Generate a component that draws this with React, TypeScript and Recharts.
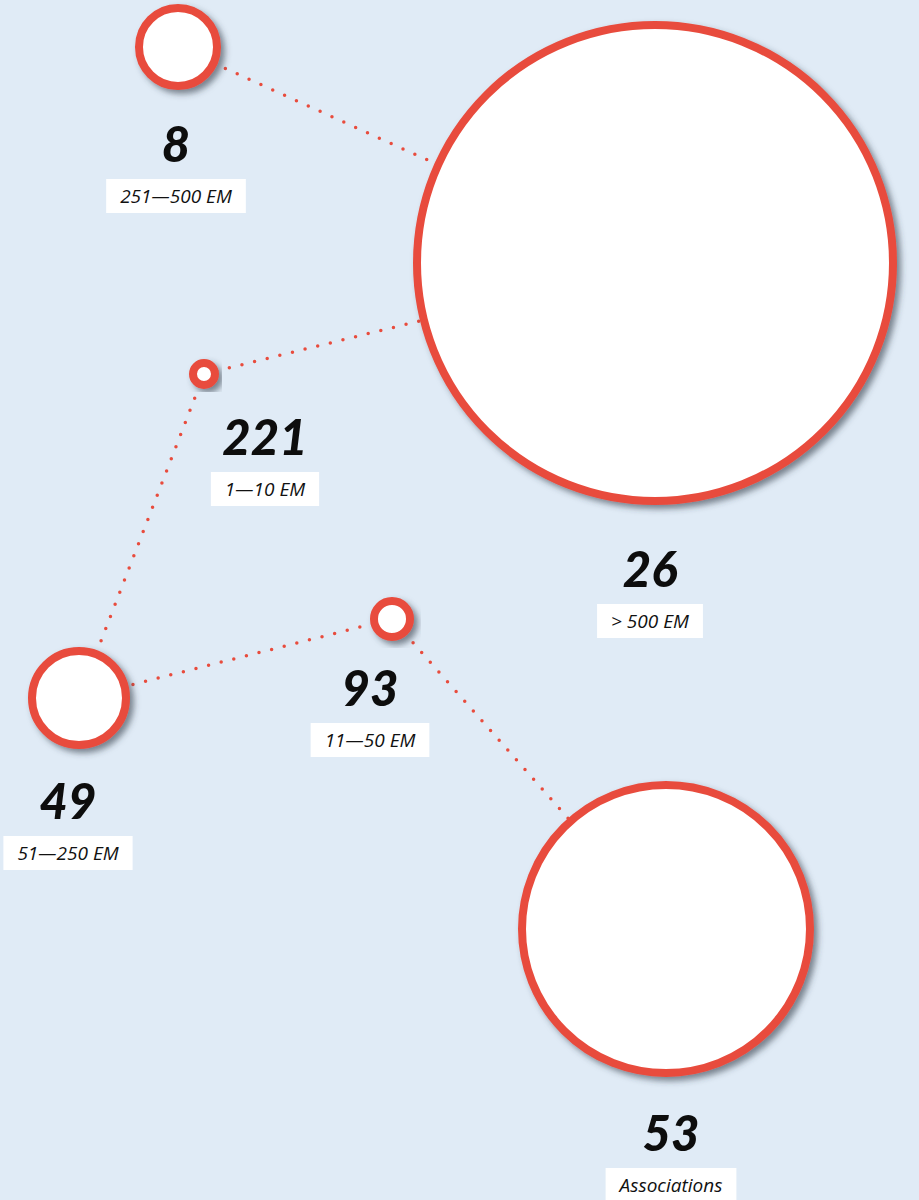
import React from 'react';
import { ScatterChart, Scatter, XAxis, YAxis, ZAxis } from 'recharts';

const RED = '#e84c3d';
const BG = '#e0ebf6';

// bubbles, in the order they appear top to bottom
const categories = ['251—500 EM', '> 500 EM', '1—10 EM', '11—50 EM', '51—250 EM', 'Associations'];
const counts = [8, 26, 221, 93, 49, 53];
const bubbleX = [178, 655, 204, 392, 79, 666];
const bubbleY = [47, 263, 374, 619, 698, 929];
const bubbleArea = [4780, 177950, 380, 1020, 6940, 65140];
const labelX = [176, 650, 265, 370, 68, 671];
const labelY = [179, 604, 472, 723, 836, 1168];

// the dotted path goes through the bubbles in this order
const linkOrder = ['251—500 EM', '> 500 EM', '1—10 EM', '51—250 EM', '11—50 EM', 'Associations'];

const bubbles = categories.map((name, i) => ({
  name,
  x: bubbleX[i],
  y: bubbleY[i],
  z: bubbleArea[i],
}));
const links = linkOrder.map((name) => bubbles.find((b) => b.name === name)!);
const labels = categories.map((name, i) => ({
  name,
  count: counts[i],
  x: labelX[i],
  y: labelY[i],
  z: 1,
}));

const LABEL_FONT = 'italic 19px "Open Sans"';
let ctx: CanvasRenderingContext2D | null = null;
function textWidth(t: string) {
  if (!ctx) ctx = document.createElement('canvas').getContext('2d');
  if (!ctx) return t.length * 11;
  ctx.font = LABEL_FONT;
  return ctx.measureText(t).width;
}

const Bubble = (props: any) => {
  const { cx, cy, width, index } = props;
  const r = width / 2;
  const id = `shadow-${index}`;
  return (
    <g>
      <defs>
        <filter id={id} x="-30%" y="-30%" width="160%" height="160%">
          <feDropShadow dx="4" dy="4" stdDeviation="3" floodColor="#343a46" floodOpacity="0.6" />
        </filter>
      </defs>
      <circle cx={cx} cy={cy} r={r} fill="#fff" stroke={RED} strokeWidth={8} filter={`url(#${id})`} />
    </g>
  );
};

const Label = (props: any) => {
  const { cx, cy, payload } = props;
  const w = textWidth(payload.name) + 28;
  return (
    <g>
      <text
        x={cx}
        y={cy - 17}
        textAnchor="middle"
        fontFamily="Lato, sans-serif"
        fontStyle="italic"
        fontWeight={900}
        fontSize={49}
        fill="#0d0d0d"
      >
        {payload.count}
      </text>
      <rect x={cx - w / 2} y={cy} width={w} height={34} fill="#fff" />
      <text
        x={cx}
        y={cy + 24}
        textAnchor="middle"
        fontFamily="'Open Sans', sans-serif"
        fontStyle="italic"
        fontSize={19}
        fill="#111"
      >
        {payload.name}
      </text>
    </g>
  );
};

export default function App() {
  return (
    <div style={{ width: 919, height: 1200, background: BG, overflow: 'hidden' }}>
      <style>{'body{margin:0}'}</style>
      <ScatterChart width={919} height={1200} margin={{ top: 0, right: 0, bottom: 0, left: 0 }}>
        <XAxis type="number" dataKey="x" domain={[0, 919]} hide />
        <YAxis type="number" dataKey="y" domain={[0, 1200]} reversed hide />
        <ZAxis type="number" dataKey="z" domain={[0, 177950]} range={[0, 177950]} />
        <Scatter
          data={links}
          isAnimationActive={false}
          line={{ stroke: RED, strokeWidth: 3.5, strokeDasharray: '0 13', strokeLinecap: 'round' }}
          shape={() => <g />}
        />
        <Scatter data={bubbles} isAnimationActive={false} shape={<Bubble />} />
        <Scatter data={labels} isAnimationActive={false} shape={<Label />} />
      </ScatterChart>
    </div>
  );
}
